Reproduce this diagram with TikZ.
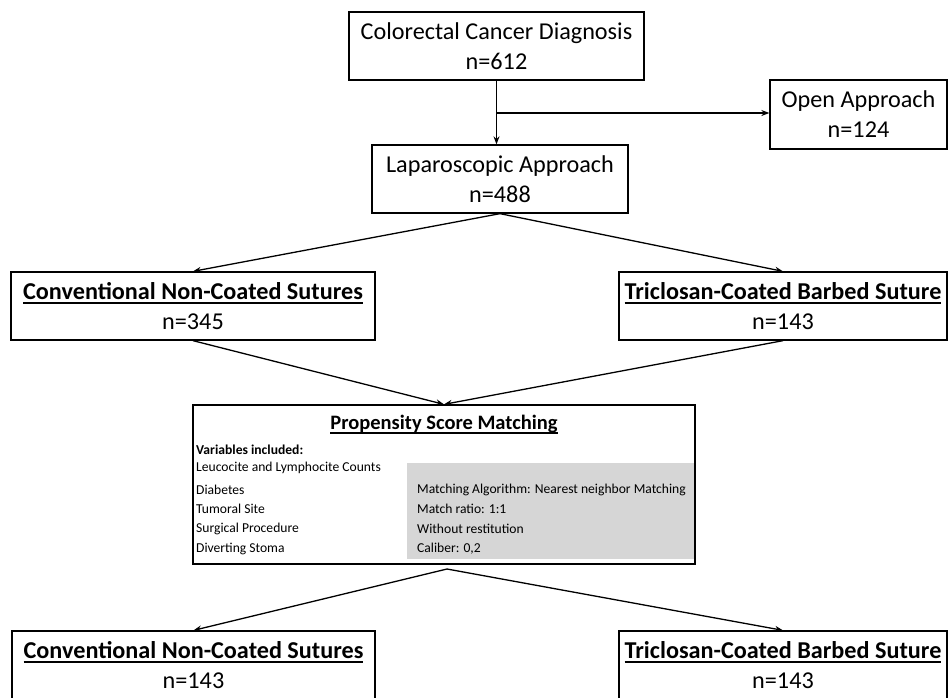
\documentclass[tikz,border=0pt]{standalone}
\usepackage{fontspec}
\setmainfont{Carlito}
\usetikzlibrary{arrows.meta}
\definecolor{boxgray}{RGB}{214,214,214}
\newcommand\ulbf[1]{\sbox0{\bfseries #1}\leavevmode\rlap{\rule[-4.5pt]{\wd0}{2pt}}\usebox0}
\begin{document}
\begin{tikzpicture}[x=1pt,y=-1pt,
 box/.style={draw,line width=1.3pt,inner sep=0pt,align=center,font=\fontsize{24.2}{30}\selectfont},
 arr/.style={-{Stealth[length=8pt,width=6pt]},line width=1.3pt},
 small/.style={font=\fontsize{13.6}{15}\selectfont,inner sep=0pt,anchor=west}]
\clip (0,0) rectangle (948,697);
\fill[white] (0,0) rectangle (948,697);
\node[box,minimum width=295pt,minimum height=68pt] (diag) at (496.5,46) {Colorectal Cancer Diagnosis\\n=612};
\node[box,minimum width=177pt,minimum height=69pt] (open) at (858.5,114.5) {Open Approach\\n=124};
\node[box,minimum width=256pt,minimum height=68pt] (lap) at (500,179) {Laparoscopic Approach\\n=488};
\node[box,minimum width=364pt,minimum height=68pt] (convA) at (193,306) {\ulbf{Conventional Non-Coated Sutures}\\n=345};
\node[box,minimum width=328pt,minimum height=68pt] (tricA) at (783,306) {\ulbf{Triclosan-Coated Barbed Suture}\\n=143};
\node[draw,line width=1.3pt,minimum width=502pt,minimum height=159pt,inner sep=0pt] (psm) at (444,484.5) {};
\fill[boxgray] (407,463) rectangle (694,559);
\node[inner sep=0pt,font=\fontsize{20.5}{30}\selectfont] (psmt) at (444,425) {\ulbf{Propensity Score Matching}};
\node[small,font=\fontsize{13.6}{15}\selectfont\bfseries] (v0) at (196,450) {Variables included:};
\node[small] (v1) at (196,468) {Leucocite and Lymphocite Counts};
\node[small] (v2) at (196,490) {Diabetes};
\node[small] (v3) at (196,509) {Tumoral Site};
\node[small] (v4) at (196,529) {Surgical Procedure};
\node[small] (v5) at (196,549) {Diverting Stoma};
\node[small] (g1) at (417,490) {Matching Algorithm: Nearest neighbor Matching};
\node[small] (g2) at (417,509) {Match ratio: 1:1};
\node[small] (g3) at (417,529) {Without restitution};
\node[small] (g4) at (417,549) {Caliber: 0,2};
\node[box,minimum width=363pt,minimum height=68pt] (convB) at (193.5,665) {\ulbf{Conventional Non-Coated Sutures}\\n=143};
\node[box,minimum width=328pt,minimum height=68pt] (tricB) at (783,665) {\ulbf{Triclosan-Coated Barbed Suture}\\n=143};
\draw[arr] (diag.south) -- (diag.south |- lap.north);
\coordinate (br) at (496.5,113);
\draw[arr] (br) -- (br -| open.west);
\draw[arr] (lap.south) -- (convA.north);
\draw[arr] (lap.south) -- (tricA.north);
\draw[arr] (convA.south) -- (psm.north);
\draw[arr] (tricA.south) -- (psm.north);
\coordinate (ps) at (447,569);
\draw[arr] (ps) -- (convB.north);
\draw[arr] (ps) -- (tricB.north);
\end{tikzpicture}
\end{document}
